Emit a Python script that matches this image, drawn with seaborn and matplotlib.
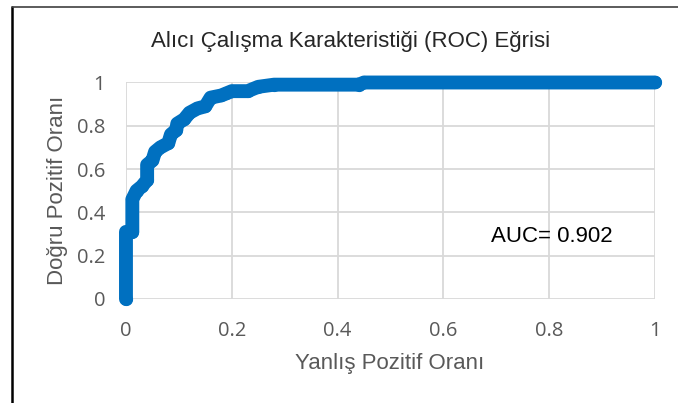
import numpy as np
import pandas as pd
import seaborn as sns
import matplotlib.pyplot as plt
from matplotlib.lines import Line2D

# ROC egrisi noktalari
fpr = [0.0, 0.0, 0.012, 0.012, 0.02, 0.03, 0.04, 0.04, 0.05, 0.055, 0.065, 0.08,
       0.085, 0.095, 0.097, 0.11, 0.12, 0.135, 0.15, 0.16, 0.18, 0.19, 0.2, 0.23,
       0.25, 0.28, 0.44, 0.45, 1.0]
tpr = [0.0, 0.31, 0.31, 0.46, 0.5, 0.52, 0.55, 0.62, 0.64, 0.68, 0.70, 0.72,
       0.76, 0.78, 0.81, 0.83, 0.86, 0.88, 0.89, 0.93, 0.94, 0.95, 0.96, 0.96,
       0.98, 0.99, 0.99, 1.0, 1.0]

ticks = [0, 0.2, 0.4, 0.6, 0.8, 1]
tick_labels = ['0', '0.2', '0.4', '0.6', '0.8', '1']
auc_value = 0.902

title = 'Alıcı Çalışma Karakteristiği (ROC) Eğrisi'
xlabel = 'Yanlış Pozitif Oranı'
ylabel = 'Doğru Pozitif Oranı'

sns.set_theme(style='white')
plt.rcParams['font.family'] = ['Liberation Sans', 'DejaVu Sans']

fig = plt.figure(figsize=(6.78, 4.03), dpi=100)
ax = fig.add_axes([0.1858, 0.2581, 0.7802, 0.5372])

df = pd.DataFrame({'fpr': fpr, 'tpr': tpr})
sns.lineplot(data=df, x='fpr', y='tpr', sort=False, estimator=None, ax=ax,
             color='#0070C0', linewidth=10, marker='o', markersize=9.5,
             markeredgewidth=0, solid_capstyle='round', solid_joinstyle='round',
             zorder=3, clip_on=False)

ax.set_xlim(0, 1)
ax.set_ylim(0, 1)
ax.set_xticks(ticks)
ax.set_xticklabels(tick_labels)
ax.set_yticks(ticks)
ax.set_yticklabels(tick_labels)
for lab in ax.get_xticklabels() + ax.get_yticklabels():
    lab.set_family(['Open Sans', 'DejaVu Sans'])
ax.grid(True, color='#D9D9D9', linewidth=1.3)
for s in ax.spines.values():
    s.set_visible(False)
ax.tick_params(length=0, labelsize=14.5, labelcolor='#595959')
ax.tick_params(axis='x', pad=16)
ax.tick_params(axis='y', pad=15)

ax.set_xlabel(xlabel, fontsize=16, color='#595959')
ax.xaxis.set_label_coords(0.498, -0.323)
ax.xaxis.label.set_va('baseline')
ax.set_ylabel(ylabel, fontsize=16, color='#595959')
ax.yaxis.set_label_coords(-0.119, 0.503)
ax.yaxis.label.set_va('baseline')

ax.text(0.691, 0.262, f'AUC= {auc_value}', fontsize=16, color='black', va='baseline')

fig.text(0.517, 1 - 46.7 / 403, title, ha='center', va='baseline', fontsize=16,
         color='#262626')

# cerceve (sol ve ust kenar)
fig.add_artist(Line2D([12 / 678, 12 / 678], [0, 1 - 7 / 403], color='black', linewidth=1.8))
fig.add_artist(Line2D([12 / 678, 1], [1 - 7 / 403, 1 - 7 / 403], color='#404040', linewidth=1.2))

fig.savefig('out.png', dpi=100, facecolor='white')
